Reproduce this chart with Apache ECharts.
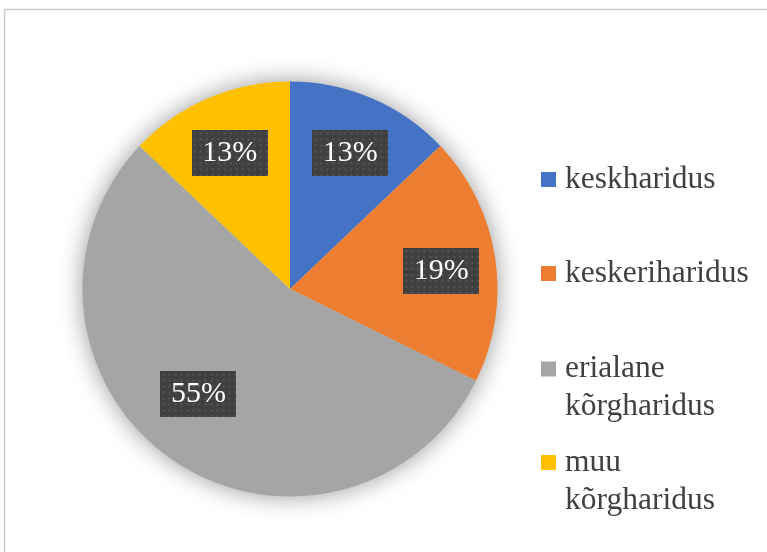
<!DOCTYPE html>
<html>
<head>
<meta charset="utf-8">
<script src="https://cdn.jsdelivr.net/npm/echarts@6/dist/echarts.min.js"></script>
<style>
  html, body { margin: 0; padding: 0; background: #fff; }
  #chart { width: 767px; height: 552px; }
</style>
</head>
<body>
<div id="chart"></div>
<script>
  // values (percent of respondents)
  var categories = ['keskharidus', 'keskeriharidus', 'erialane kõrgharidus', 'muu kõrgharidus'];
  var shares = [12.9, 19.4, 54.8, 12.9];
  var colors = ['#4472C4', '#ED7D31', '#A5A5A5', '#FFC000'];

  var serif = '"Liberation Serif", "Times New Roman", serif';

  // dotted dark box behind the data labels
  var pat = document.createElement('canvas');
  pat.width = 76; pat.height = 46;
  var ctx = pat.getContext('2d');
  ctx.fillStyle = '#404040';
  ctx.fillRect(0, 0, 76, 46);
  ctx.fillStyle = '#565656';
  for (var px = 2; px < 76; px += 6) {
    for (var py = 2; py < 46; py += 6) {
      ctx.fillRect(px, py, 2, 2);
    }
  }

  var pieData = [];
  for (var i = 0; i < categories.length; i++) {
    pieData.push({ name: categories[i], value: shares[i], itemStyle: { color: colors[i] } });
  }

  // one legend per entry so the wrapped names line up with the marker like in the picture
  var legendTops = [160.5, 254.5, 312, 405.5];
  var legends = [];
  for (var j = 0; j < categories.length; j++) {
    legends.push({
      orient: 'vertical',
      left: 541,
      top: legendTops[j],
      padding: 0,
      icon: 'rect',
      itemWidth: 15,
      itemHeight: 15,
      selectedMode: false,
      data: [{ name: categories[j], itemStyle: { color: colors[j] } }],
      formatter: function (name) {
        // empty first line keeps the first word level with the marker
        return name.indexOf(' ') >= 0 ? '\n' + name.replace(' ', '\n') : name;
      },
      textStyle: {
        fontFamily: serif,
        fontSize: 31.5,
        lineHeight: 38,
        color: '#404040',
        padding: [0, 0, 0, 4]
      }
    });
  }

  var chart = echarts.init(document.getElementById('chart'));
  var option = {
    backgroundColor: '#fff',
    animation: false,
    legend: legends,
    graphic: [{
      type: 'rect',
      shape: { x: 4.5, y: 9.5, width: 800, height: 600 },
      style: { fill: null, stroke: '#c9c9c9', lineWidth: 1.5 },
      silent: true
    }],
    series: [
      {
        name: 'haridus',
        type: 'pie',
        center: [290, 289],
        radius: 207.5,
        startAngle: 90,
        clockwise: true,
        silent: true,
        z: 3,
        label: { show: false },
        labelLine: { show: false },
        itemStyle: { borderWidth: 0 },
        emphasis: { disabled: true },
        data: pieData
      },
      {
        name: 'vari',
        type: 'pie',
        center: [290, 289],
        radius: 207,
        startAngle: 90,
        silent: true,
        z: 1,
        label: { show: false },
        labelLine: { show: false },
        itemStyle: { color: '#fff', shadowBlur: 24, shadowColor: 'rgba(0,0,0,0.42)' },
        emphasis: { disabled: true },
        data: shares.map(function (v, k) { return { name: categories[k] + ' ', value: v }; })
      },
      {
        name: 'sildid',
        type: 'pie',
        center: [290, 289],
        radius: [100, 200],
        startAngle: 90,
        silent: true,
        z: 5,
        percentPrecision: 0,
        itemStyle: { color: 'rgba(0,0,0,0)' },
        emphasis: { disabled: true },
        labelLine: { show: false },
        label: {
          show: true,
          position: 'inside',
          formatter: '{d}%',
          fontFamily: serif,
          fontSize: 30,
          color: '#fff',
          lineHeight: 28,
          padding: [9, 10.5],
          backgroundColor: { image: pat },
          shadowColor: 'rgba(0,0,0,0.55)',
          shadowBlur: 5,
          shadowOffsetX: 3,
          shadowOffsetY: 3
        },
        // the big slice's label sits a bit higher in the original
        labelLayout: function (p) {
          return p.dataIndex === 2 ? { dx: -4, dy: -20 } : { dy: 5 };
        },
        data: shares.map(function (v, k) { return { name: categories[k] + '  ', value: v }; })
      }
    ]
  };
  chart.setOption(option);
</script>
</body>
</html>
